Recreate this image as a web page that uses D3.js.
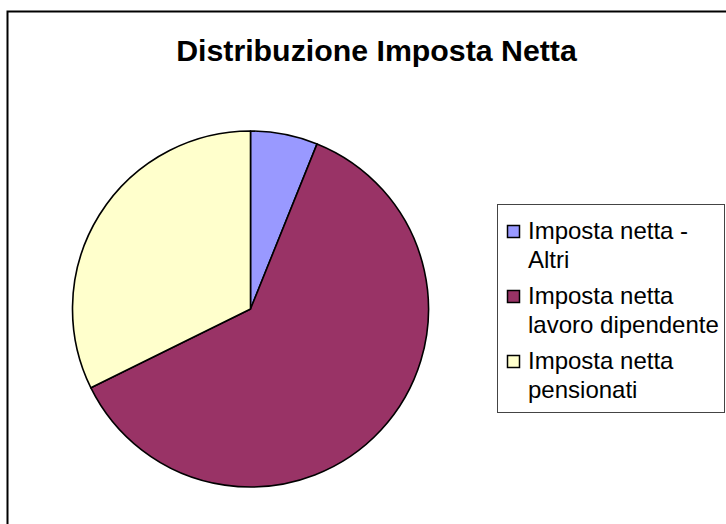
<!DOCTYPE html>
<html>
<head>
<meta charset="utf-8">
<script src="https://cdn.jsdelivr.net/npm/d3@7"></script>
<style>
  body { margin: 0; background: #fff; }
  svg { display: block; font-family: "Liberation Sans", Arial, sans-serif; }
</style>
</head>
<body>
<svg id="chart" width="726" height="524"></svg>
<script>
var categories = ["Imposta netta - Altri", "Imposta netta lavoro dipendente", "Imposta netta pensionati"];
var legendLines = [["Imposta netta -", "Altri"], ["Imposta netta", "lavoro dipendente"], ["Imposta netta", "pensionati"]];
var values = [6.1, 61.6, 32.3];
var colors = ["#9999FF", "#993366", "#FFFFCC"];

var svg = d3.select("#chart");

// chart frame (runs off the right and bottom of the picture)
svg.append("rect")
  .attr("x", 7.5).attr("y", 11.5)
  .attr("width", 740).attr("height", 540)
  .attr("fill", "#fff")
  .attr("stroke", "#000")
  .attr("stroke-width", 2);

svg.append("text")
  .attr("x", 376.5).attr("y", 61)
  .attr("text-anchor", "middle")
  .style("font-size", "30.3px")
  .style("font-weight", "bold")
  .text("Distribuzione Imposta Netta");

var cx = 250.5, cy = 309, r = 178;

var pie = d3.pie().sort(null).value(function(d){ return d; });
var arc = d3.arc().innerRadius(0).outerRadius(r);

svg.append("g")
  .attr("transform", "translate(" + cx + "," + cy + ")")
  .selectAll("path")
  .data(pie(values))
  .enter().append("path")
    .attr("d", arc)
    .attr("fill", function(d, i){ return colors[i]; })
    .attr("stroke", "#000")
    .attr("stroke-width", 1.6)
    .attr("stroke-linejoin", "round");

// legend
var legend = svg.append("g").attr("class", "legend");
legend.append("rect")
  .attr("x", 497.5).attr("y", 204.5)
  .attr("width", 227).attr("height", 208)
  .attr("fill", "#fff")
  .attr("stroke", "#444")
  .attr("stroke-width", 1);

var baseY = 239, lineH = 29, entryH = 65;
var items = legend.selectAll("g.item")
  .data(categories)
  .enter().append("g")
    .attr("class", "item")
    .attr("transform", function(d, i){ return "translate(0," + (baseY + i * entryH) + ")"; });

items.append("rect")
  .attr("x", 507.5).attr("y", -13.5)
  .attr("width", 12).attr("height", 12)
  .attr("fill", function(d, i){ return colors[i]; })
  .attr("stroke", "#000")
  .attr("stroke-width", 1.5);

items.each(function(d, i){
  d3.select(this).selectAll("text")
    .data(legendLines[i])
    .enter().append("text")
      .attr("x", 528)
      .attr("y", function(t, j){ return j * lineH; })
      .style("font-size", "24px")
      .text(function(t){ return t; });
});
</script>
</body>
</html>
